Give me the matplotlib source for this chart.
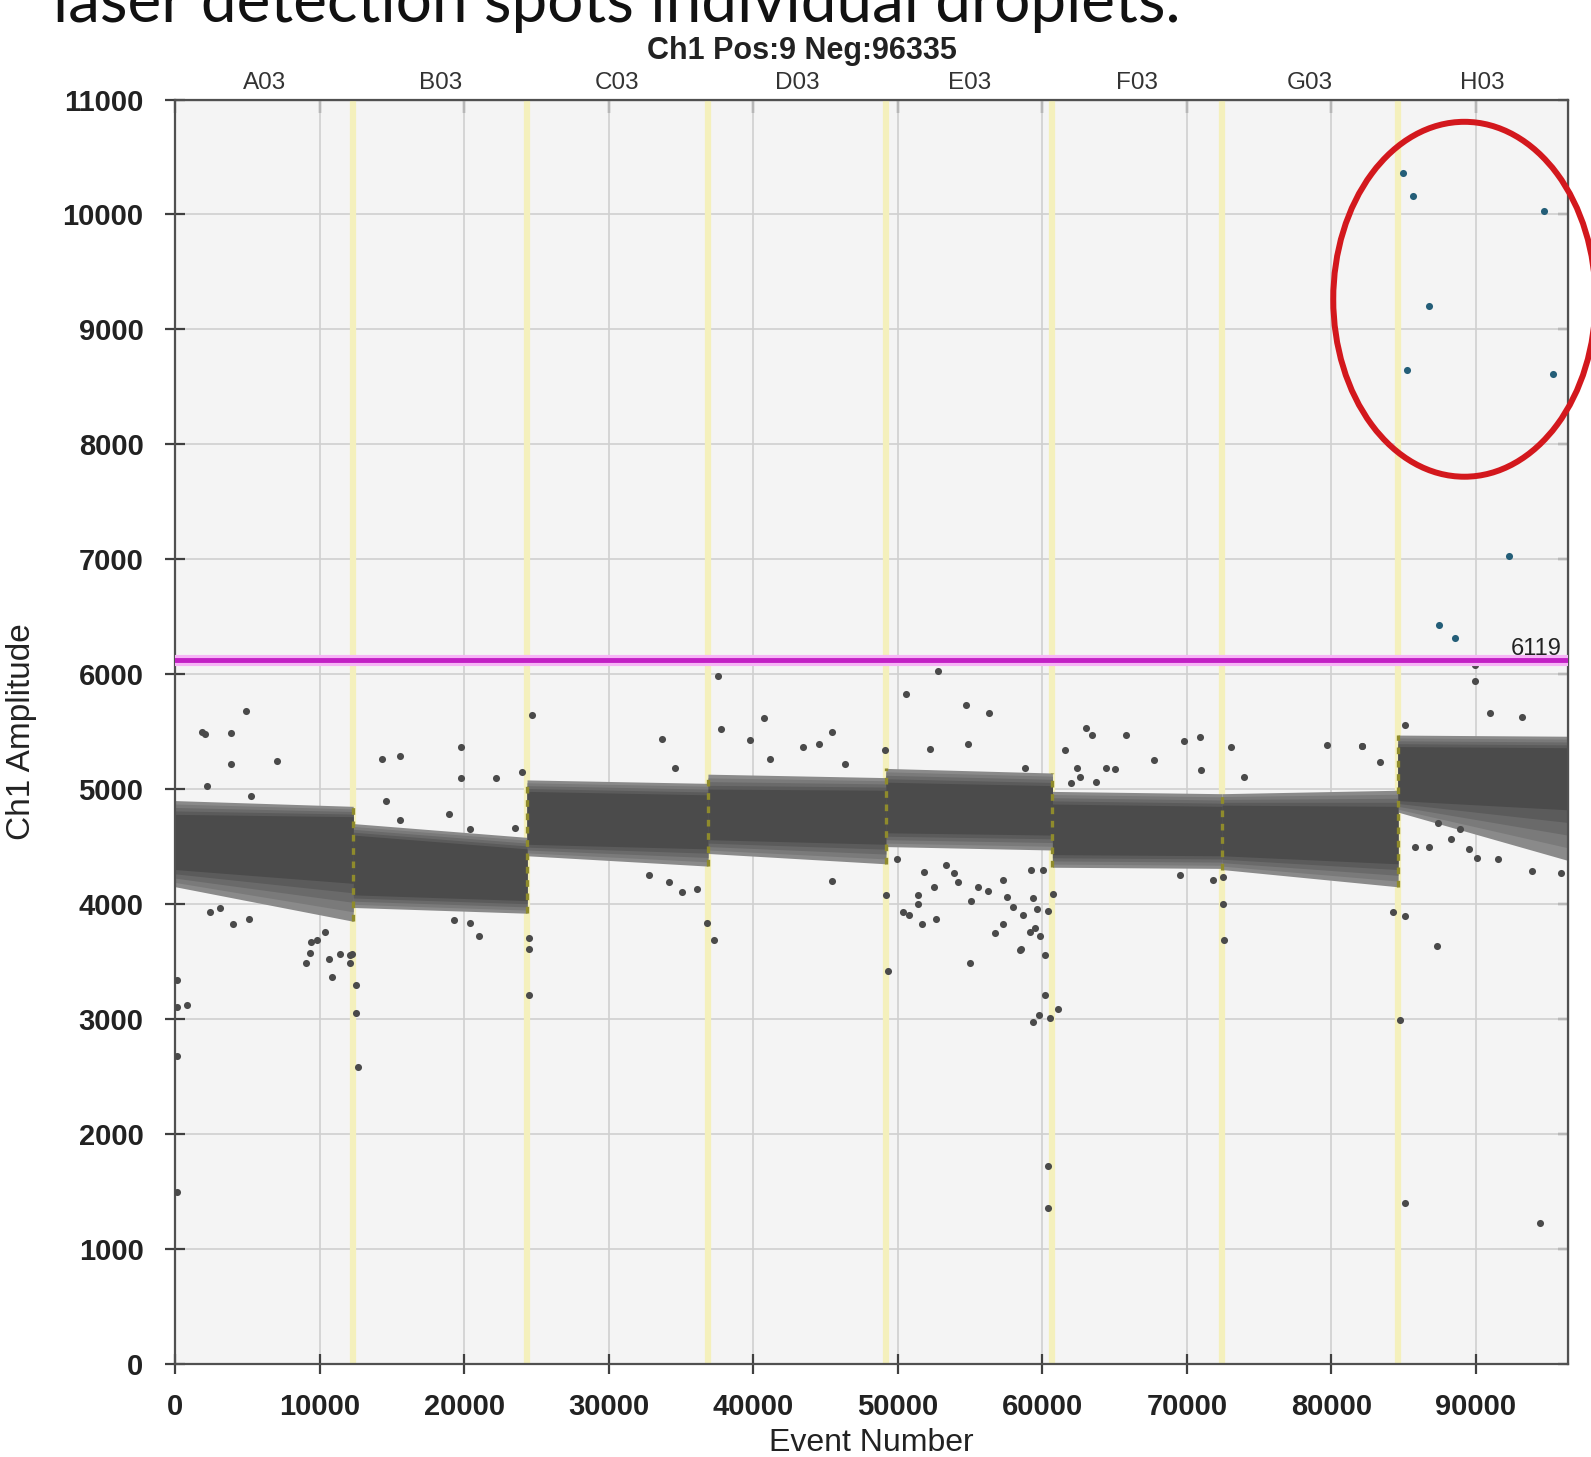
import numpy as np
import matplotlib
matplotlib.use("Agg")
import matplotlib.pyplot as plt
from matplotlib.patches import Ellipse
from matplotlib.colors import to_rgb

plt.rcParams["font.family"] = ["Liberation Sans", "DejaVu Sans"]

# --- data ------------------------------------------------------------------
total_events = 96344
threshold = 6119
wells = ["A03", "B03", "C03", "D03", "E03", "F03", "G03", "H03"]
well_edges = [0, 12300, 24330, 36850, 49160, 60690, 72430, 84600, 96344]

# droplet band envelopes per well: (value at left end, value at right end)
band_top = [(4900, 4850), (4700, 4580), (5080, 5050), (5130, 5100),
            (5180, 5140), (4980, 4960), (4960, 4990), (5470, 5460)]
band_bot = [(4150, 3850), (3970, 3920), (4420, 4330), (4440, 4350),
            (4500, 4470), (4320, 4310), (4300, 4150), (4800, 4380)]
core_top = [(4780, 4760), (4600, 4480), (4980, 4950), (5000, 4990),
            (5060, 5030), (4870, 4850), (4860, 4850), (5370, 5360)]
core_bot = [(4300, 4180), (4080, 4030), (4520, 4480), (4560, 4520),
            (4620, 4600), (4430, 4420), (4420, 4350), (4900, 4820)]

# scattered negative droplets outside the dense bands
neg_x = [1813, 2050, 3846, 4860, 3846, 7011, 2200, 5204,
         2390, 4008, 5091, 3080, 9044, 10591, 9367, 9775, 10359, 11392, 12096,
         9276, 10844, 12187, 12061, 12475, 12475, 12630, 809, 91, 91, 91, 91,
         14263, 15506, 19760, 19760, 22208, 23980, 24684, 14538, 18931, 15506,
         20410, 23530, 19255, 20410, 20985, 24452, 24452, 24487,
         33693, 34571, 32771, 34150, 35077, 36062, 36814, 37272,
         37574, 37736, 39767, 40697, 41154, 43439, 44550, 45408, 46330, 49121,
         45408, 49170, 49339,
         50560, 52791, 54712, 54831, 56330, 52222, 58805,
         49930, 51364, 51364, 50323, 50788, 51667, 52637, 52518, 54143, 55063,
         55528, 51828, 53330, 53903, 54965, 56723, 57258, 58481, 59170, 59452,
         59796, 60197, 56259, 57546, 57947, 58642, 59340, 59634, 57300, 59212,
         60032, 60406, 60725, 58460,
         60148, 59733, 59324, 60528, 61105, 60400, 60400,
         63031, 63431, 65802, 67694, 69775, 70886, 71005, 61533, 62412, 62567,
         64416, 64993, 63727, 61941,
         69501, 71814, 72504, 72504, 72546,
         73031, 73959, 79662, 82138, 83361, 82096,
         84290, 85091, 84753,
         85091, 90985, 93179, 89944, 89944,
         85787, 86758, 88277, 89487, 90063, 91519, 93875, 95907, 87356, 88903,
         87293, 85105, 94451]
neg_y = [5498, 5480, 5489, 5680, 5216, 5243, 5028, 4938,
         3932, 3825, 3866, 3963, 3488, 3526, 3671, 3686, 3758, 3566, 3557,
         3575, 3366, 3564, 3488, 3297, 3051, 2585, 3120, 2676, 3338, 3106, 1496,
         5260, 5292, 5362, 5100, 5100, 5150, 5649, 4900, 4782, 4728,
         4655, 4665, 3860, 3836, 3721, 3707, 3605, 3208,
         5438, 5185, 4250, 4192, 4105, 4130, 3836, 3686,
         5985, 5521, 5430, 5621, 5260, 5362, 5396, 5500, 5222, 5344,
         4198, 4077, 3416,
         5825, 6028, 5734, 5396, 5666, 5347, 5185,
         4395, 4077, 4003, 3933, 3904, 3825, 3866, 4148, 4192, 4023,
         4148, 4280, 4338, 4266, 3488, 3745, 3830, 3605, 3758, 3795,
         3720, 3557, 4115, 4063, 3975, 3904, 4054, 3953, 4213, 4300,
         4295, 3941, 4091, 3597,
         3208, 3032, 2975, 3010, 3083, 1719, 1351,
         5535, 5468, 5468, 5257, 5419, 5449, 5170, 5344, 5187, 5106,
         5187, 5172, 5062, 5054,
         4250, 4210, 4237, 4003, 3686,
         5362, 5106, 5382, 5376, 5236, 5373,
         3932, 3894, 2990,
         5556, 5663, 5628, 6078, 5942,
         4498, 4498, 4564, 4475, 4404, 4390, 4286, 4271, 4701, 4657,
         3634, 1403, 1227]

# positive droplets (Pos: 9)
pos_x = [84950, 85654, 94726, 86780, 85232, 95359, 92264, 87447, 88516]
pos_y = [10362, 10159, 10026, 9206, 8650, 8614, 7025, 6425, 6319]

# highlight ellipse drawn over the positives
ell_center = (89200, 9262)
ell_size = (18150, 3088)

# --- figure ---------------------------------------------------------------
fig = plt.figure(figsize=(15.91, 14.57), dpi=100)
ax = fig.add_axes([0.1103, 0.0640, 0.8750, 0.8677])
ax.set_facecolor("#f4f4f4")
ax.set_xlim(0, total_events)
ax.set_ylim(0, 11000)
ax.set_axisbelow(True)
ax.set_xticks(np.arange(0, 90001, 10000))
ax.set_yticks(np.arange(0, 11001, 1000))
ax.grid(True, color="#cfcfcf", lw=1.2)

# well boundary strips
for b in well_edges[1:-1]:
    ax.axvline(b, color="#f4f0bc", lw=4.5, zorder=1)

# droplet bands, shaded from sparse edge to dense core
light = np.array(to_rgb("#8a8a8a"))
dark = np.array(to_rgb("#4b4b4b"))
n_layers = 5
for i in range(len(wells)):
    xs = [well_edges[i], well_edges[i + 1]]
    bt, bb = np.array(band_top[i]), np.array(band_bot[i])
    ct, cb = np.array(core_top[i]), np.array(core_bot[i])
    for k in range(n_layers):
        f = k / (n_layers - 1)
        ax.fill_between(xs, bb + f * (cb - bb), bt + f * (ct - bt),
                        color=light + f * (dark - light), lw=0,
                        zorder=2 + k * 0.01)

# boundary droplets look olive where the band crosses the strip
for i, b in enumerate(well_edges[1:-1]):
    lo = min(band_bot[i][1], band_bot[i + 1][0])
    hi = max(band_top[i][1], band_top[i + 1][0])
    ax.vlines(b, lo, hi, color="#8f8b2c", lw=2.4, linestyles=(0, (2, 2)),
              zorder=2.5)

ax.scatter(neg_x, neg_y, s=26, color="#4a4a4a", lw=0, zorder=3)

# threshold
ax.axhline(threshold, color="#f6b4f6", lw=8, zorder=4)
ax.axhline(threshold, color="#c21fc4", lw=3.5, zorder=4.1)
ax.annotate(str(threshold), xy=(total_events, threshold), xytext=(-4, 4),
            textcoords="offset points", ha="right", va="baseline",
            fontsize=17, color="#222222", zorder=5)

ax.scatter(pos_x, pos_y, s=26, color="#245e78", lw=0, zorder=5)

ax.add_patch(Ellipse(ell_center, ell_size[0], ell_size[1], fill=False,
                     edgecolor="#d3181d", lw=4.3, zorder=6, clip_on=False))

# spines and ticks
for sp in ax.spines.values():
    sp.set_color("#505050")
    sp.set_linewidth(1.6)
ax.tick_params(axis="both", direction="inout", length=14, width=1.6,
               color="#404040", labelsize=21)
ax.tick_params(axis="y", pad=16)
ax.tick_params(axis="x", pad=14)
for lab in ax.get_xticklabels() + ax.get_yticklabels():
    lab.set_fontweight("bold")
    lab.set_color("#222222")

top = ax.secondary_xaxis("top")
top.set_xticks(np.arange(0, 90001, 10000))
top.tick_params(direction="in", length=9, width=1.6, color="#404040",
                labeltop=False)
right = ax.secondary_yaxis("right")
right.set_yticks(np.arange(0, 11001, 1000))
right.tick_params(direction="in", length=7, width=1.6, color="#404040",
                  labelright=False)

# well names above the plot
for i, w in enumerate(wells):
    xm = (well_edges[i] + well_edges[i + 1]) / 2
    ax.text(xm, 1.004, w, transform=ax.get_xaxis_transform(), ha="center",
            va="bottom", fontsize=17.5, color="#333333")

ax.set_ylabel("Ch1 Amplitude", fontsize=24, labelpad=18, color="#222222")
ax.set_xlabel("Event Number", fontsize=23, labelpad=5, color="#222222")

fig.text(0.5038, 1 - 59 / 1457, "Ch1 Pos:9 Neg:96335", ha="center",
         va="baseline", fontsize=22, fontweight="bold", color="#222222")
# slide caption, cut by the top edge as in the screenshot
fig.text(0.0333, 1 - 22 / 1457, "laser detection spots individual droplets.",
         ha="left", va="baseline", fontsize=46, color="#111111",
         family=["Lato", "DejaVu Sans"])

fig.savefig("out.png", dpi=100, facecolor="white")
